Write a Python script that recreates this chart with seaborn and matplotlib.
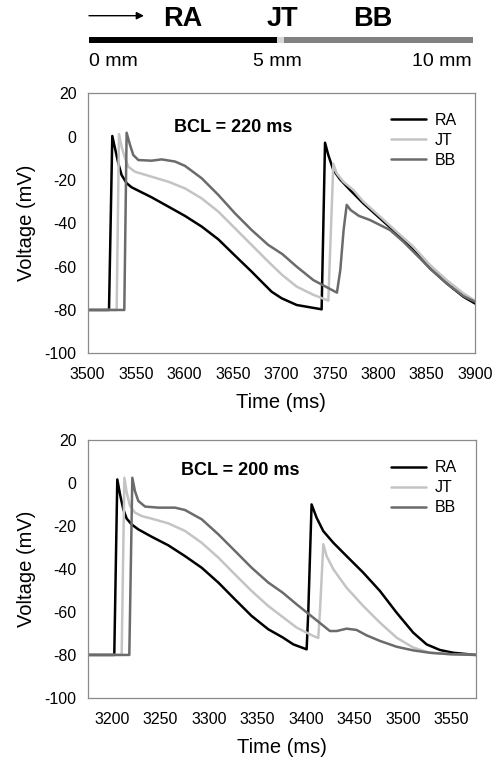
import numpy as np
import pandas as pd
import matplotlib
matplotlib.use("Agg")
import matplotlib.pyplot as plt
import seaborn as sns

sns.set_style("white")
plt.rcParams['font.family'] = ['Liberation Sans', 'DejaVu Sans']
plt.rcParams['text.color'] = 'black'
plt.rcParams['axes.labelcolor'] = 'black'

# ---------------- data: BCL = 220 ms ----------------
t220_ra = [3500, 3522, 3525.4, 3528.2, 3531.6, 3535, 3540.2, 3545.4, 3555.7, 3566,
           3583.3, 3600.5, 3617.7, 3634.9, 3652.1, 3669.3, 3679.7, 3690, 3700.3,
           3715.8, 3741.6, 3745.1, 3748.5, 3753.7, 3760.6, 3770.9, 3784.7, 3801.9,
           3819.1, 3836.3, 3853.5, 3870.7, 3888, 3900]
v220_ra = [-80, -80, 0.3, -5.4, -12.3, -17.7, -21.5, -23.4, -25.7, -28,
           -32.3, -36.6, -41.5, -47.4, -54.9, -62.3, -67, -71.6, -74.6,
           -77.7, -79.7, -2.8, -8.5, -15.4, -19.7, -24.6, -30.8, -37.7,
           -44.6, -52.3, -60.8, -67.7, -73.9, -77]

t220_jt = [3500, 3529.9, 3532.3, 3535, 3538.5, 3542, 3548.8, 3566, 3583.3, 3600.5,
           3617.7, 3634.9, 3652.1, 3669.3, 3686.5, 3701, 3715.8, 3733, 3748.5,
           3753.7, 3757.1, 3764, 3774.3, 3784.7, 3801.9, 3819.1, 3836.3, 3853.5,
           3870.7, 3888, 3900]
v220_jt = [-80, -80, 1.2, -4.6, -10, -13.9, -16.2, -18.5, -20.8, -23.9,
           -28.5, -34.6, -42.3, -50, -57.7, -63.9, -69.2, -73, -75.7,
           -12.6, -16.9, -20.8, -24.6, -30, -36.9, -43.9, -50.8, -59.2,
           -66.2, -72.3, -75.7]

t220_bb = [3500, 3537.8, 3540.2, 3543.7, 3547.1, 3552.3, 3566, 3576.4, 3590.2,
           3600.5, 3617.7, 3634.9, 3652.1, 3669.3, 3686.5, 3701, 3715.8, 3733,
           3750.3, 3757.4, 3760.9, 3764.3, 3767.5, 3771.6, 3780.2, 3791.6, 3801.9,
           3812.2, 3826, 3836.3, 3853.5, 3870.7, 3888, 3900]
v220_bb = [-80, -80, 1.8, -3.8, -8.5, -10.8, -11.1, -10.5, -11.5,
           -13.5, -19.2, -26.9, -35.4, -43.1, -50, -54.2, -60, -66.2,
           -70.3, -72, -61.5, -43.1, -31.5, -33.9, -36.6, -38.5, -40.8,
           -43.1, -48.5, -53.1, -60.8, -67.7, -73.6, -76.2]

# ---------------- data: BCL = 200 ms ----------------
t200_ra = [3175, 3202.4, 3205.5, 3208.3, 3211.7, 3215.2, 3220.3, 3227.2, 3240.9,
           3258.1, 3275.3, 3292.5, 3309.7, 3326.8, 3344, 3361.2, 3375.8, 3387,
           3400.7, 3402.4, 3405.8, 3411, 3417.9, 3428.2, 3441.9, 3459.1, 3476.3,
           3493.5, 3510.7, 3524.4, 3538.1, 3551.9, 3575]
v200_ra = [-80, -80, 1.5, -5.4, -12.4, -16.7, -19.4, -21.7, -25.1,
           -29.1, -34.1, -39.5, -46.4, -54.2, -61.9, -68.1, -71.8, -75.1,
           -77.4, -60, -10.1, -16.3, -22.5, -27.9, -34.1, -41.8, -50.3,
           -60.4, -69.7, -75.1, -77.7, -79, -80]

t200_jt = [3175, 3210, 3212.8, 3215.2, 3218.6, 3223.7, 3230.6, 3240.9, 3258.1,
           3275.3, 3292.5, 3309.7, 3326.8, 3344, 3361.2, 3375.8, 3390.4, 3407.6,
           3412.7, 3414.4, 3417.9, 3421.3, 3428.2, 3441.9, 3459.1, 3476.3, 3493.5,
           3510.7, 3527.8, 3550, 3575]
v200_jt = [-80, -80, 2.3, -4.6, -10.8, -13.9, -15.5, -16.7, -18.9,
           -22.4, -27.9, -34.8, -42.6, -50.3, -57.3, -62.3, -67.3, -71.2,
           -72.1, -60, -28.6, -34.1, -40.2, -48.8, -57.3, -65, -72,
           -76.6, -79, -79.7, -80]

t200_bb = [3175, 3217.9, 3221, 3223.7, 3227.2, 3234.1, 3247.8, 3265, 3275.3,
           3292.5, 3309.7, 3326.8, 3344, 3361.2, 3375.8, 3390.4, 3407.6, 3424.7,
           3431.6, 3441.9, 3452.2, 3462.5, 3476.3, 3493.5, 3510.7, 3527.8, 3550,
           3575]
v200_bb = [-80, -80, 2.3, -3.9, -8.5, -11.1, -11.6, -11.6, -12.7,
           -17, -24, -31.7, -39.5, -46.4, -51, -56.5, -62.7, -68.9,
           -68.9, -67.8, -68.4, -70.9, -73.5, -76.2, -77.9, -79, -79.7,
           -80]

series_names = ["RA", "JT", "BB"]
colors = {"RA": "#000000", "JT": "#c4c4c4", "BB": "#6b6b6b"}

panels = [
    ("BCL = 220 ms", (3500, 3900), np.arange(3500, 3901, 50),
     {"RA": (t220_ra, v220_ra), "JT": (t220_jt, v220_jt), "BB": (t220_bb, v220_bb)}),
    ("BCL = 200 ms", (3175, 3575), np.arange(3200, 3551, 50),
     {"RA": (t200_ra, v200_ra), "JT": (t200_jt, v200_jt), "BB": (t200_bb, v200_bb)}),
]
y_ticks = np.arange(-100, 21, 20)

fig = plt.figure(figsize=(4.93, 7.66), dpi=100)

W, H = 493, 766
axes_px = [(87.7, 93.3, 475.0, 353.3), (87.7, 439.6, 475.7, 698.0)]
title_pos = [(0.375, 0.870), (0.3925, 0.882)]
legend_pos = [(0.954, 0.925), (0.951, 0.92)]

spine_col = "#8a8a8a"
for i, (title, xlim, xticks, data) in enumerate(panels):
    l, t, r, b = axes_px[i]
    ax = fig.add_axes([l / W, 1 - b / H, (r - l) / W, (b - t) / H])
    for name in series_names:
        tt, vv = data[name]
        df = pd.DataFrame({"Time": tt, "Voltage": vv})
        sns.lineplot(data=df, x="Time", y="Voltage", ax=ax, color=colors[name],
                     lw=1.8, label=name, estimator=None, sort=False)
    ax.set_xlim(*xlim)
    ax.set_ylim(-100, 20)
    ax.set_xticks(xticks)
    ax.set_yticks(y_ticks)
    ax.set_xticklabels([str(v) for v in xticks])
    ax.set_yticklabels([str(v) for v in y_ticks])
    ax.tick_params(axis="both", direction="out", length=3, width=0.8,
                   color=spine_col, labelsize=11.5, labelcolor="#000000")
    ax.tick_params(axis="x", pad=7)
    ax.tick_params(axis="y", pad=5)
    for s in ax.spines.values():
        s.set_color(spine_col)
        s.set_linewidth(0.9)
        s.set_visible(True)
    ax.set_xlabel("Time (ms)", fontsize=14.5, labelpad=8)
    ax.set_ylabel("Voltage (mV)", fontsize=14.5, labelpad=6)
    ax.text(title_pos[i][0], title_pos[i][1], title, transform=ax.transAxes,
            ha="center", va="center", fontsize=13, fontweight="bold", color="black")
    ax.legend(loc="upper right", bbox_to_anchor=legend_pos[i], frameon=False,
              fontsize=11.5, handlelength=2.2, handletextpad=0.55,
              labelspacing=0.32, borderpad=0, borderaxespad=0)

# ---------------- top schematic ----------------
ax0 = fig.add_axes([0, 0, 1, 1], zorder=-1)
ax0.set_xlim(0, W)
ax0.set_ylim(H, 0)
ax0.axis("off")
ax0.annotate("", xy=(144, 15.7), xytext=(89, 15.7),
             arrowprops=dict(arrowstyle="-|>", lw=1.0, color="black",
                             mutation_scale=11, shrinkA=0, shrinkB=0))
ax0.plot([89, 277], [39.7, 39.7], color="black", lw=4.3, solid_capstyle="butt")
ax0.plot([277, 284], [39.7, 39.7], color="#d6d6d6", lw=4.3, solid_capstyle="butt")
ax0.plot([284, 473], [39.7, 39.7], color="#818181", lw=4.3, solid_capstyle="butt")
for lab, xc in [("RA", 182.7), ("JT", 282.5), ("BB", 372.5)]:
    ax0.text(xc, 18.5, lab, ha="center", va="center", fontsize=19.5,
             fontweight="bold", color="black")
ax0.text(89, 61, "0 mm", ha="left", va="center", fontsize=14, color="black")
ax0.text(277.5, 61, "5 mm", ha="center", va="center", fontsize=14, color="black")
ax0.text(472, 61, "10 mm", ha="right", va="center", fontsize=14, color="black")

fig.savefig("out.png", dpi=100)
